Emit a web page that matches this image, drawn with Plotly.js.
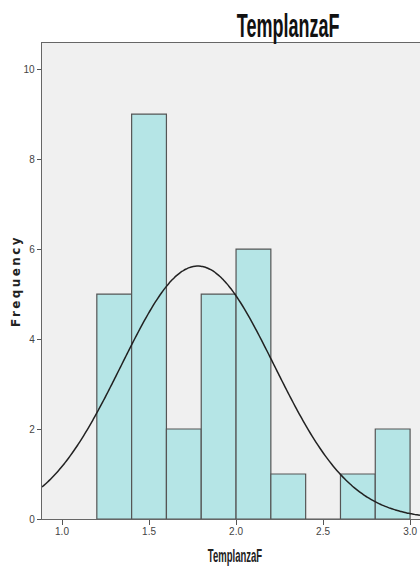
<!DOCTYPE html>
<html>
<head>
<meta charset="utf-8">
<script src="https://cdn.plot.ly/plotly-3.0.1.min.js"></script>
<style>
html,body{margin:0;padding:0;background:#fff;}
#chart{width:420px;height:574px;}
#chart .gtitle{transform-box:fill-box;transform-origin:center;transform:scale(0.6,1.12);}
#chart .xtitle{transform-box:fill-box;transform-origin:center;transform:translateX(4px) scale(0.68,1.3);}
#chart .ytitle{letter-spacing:2.4px;}
</style>
</head>
<body>
<div id="chart"></div>
<script>
// Histogram bins (centres, width 0.2) and frequencies
var binCenters = [1.3, 1.5, 1.7, 1.9, 2.1, 2.3, 2.5, 2.7, 2.9];
var counts = [5, 9, 2, 5, 6, 1, 0, 1, 2];
var binWidth = 0.2;
// Fitted normal curve parameters (SPSS overlay)
var fitMean = 1.78;
var fitSd = 0.44;
var xTicks = [1.0, 1.5, 2.0, 2.5, 3.0];
var xTickLabels = ["1.0", "1.5", "2.0", "2.5", "3.0"];
var yTicks = [0, 2, 4, 6, 8, 10];
var yTickLabels = ["0", "2", "4", "6", "8", "10"];

var nTotal = counts.reduce(function(a, b){return a + b;}, 0);
var xRange = [0.885, 3.057];
var curveX = [], curveY = [];
for (var i = 0; i <= 200; i++) {
  var x = xRange[0] + (xRange[1] - xRange[0]) * i / 200;
  var z = (x - fitMean) / fitSd;
  curveX.push(x);
  curveY.push(nTotal * binWidth * Math.exp(-0.5 * z * z) / (fitSd * Math.sqrt(2 * Math.PI)));
}

var sans = "Liberation Sans, Arial, sans-serif";

var traces = [
  {
    type: 'bar', x: binCenters, y: counts, width: binWidth,
    marker: {color: '#b5e5e6', line: {color: '#555555', width: 1.2}},
    hoverinfo: 'x+y'
  },
  {
    type: 'scatter', mode: 'lines', x: curveX, y: curveY,
    line: {color: '#222222', width: 1.5, shape: 'spline'},
    hoverinfo: 'skip'
  }
];

var layout = {
  width: 420, height: 574,
  margin: {l: 42, r: 0, t: 43, b: 55},
  paper_bgcolor: '#ffffff',
  plot_bgcolor: '#f0f0f0',
  showlegend: false,
  bargap: 0,
  title: {
    text: 'TemplanzaF',
    font: {family: sans, size: 30, color: '#111111', weight: 'bold'},
    x: 0.651, xref: 'paper', xanchor: 'center',
    y: 0.956, yref: 'container', yanchor: 'middle'
  },
  xaxis: {
    range: xRange,
    tickmode: 'array', tickvals: xTicks, ticktext: xTickLabels,
    ticks: 'outside', ticklen: 5, tickcolor: '#555', tickwidth: 1,
    tickfont: {family: sans, size: 10, color: '#444'},
    ticklabelstandoff: -2,
    showgrid: false, zeroline: false,
    showline: true, linecolor: '#666', linewidth: 1.3, mirror: true,
    title: {text: 'TemplanzaF', font: {family: sans, size: 14, color: '#222', weight: 'bold'}, standoff: 14}
  },
  yaxis: {
    range: [0, 10.58],
    tickmode: 'array', tickvals: yTicks, ticktext: yTickLabels,
    ticks: 'outside', ticklen: 4, tickcolor: '#555', tickwidth: 1,
    tickfont: {family: sans, size: 10, color: '#444'},
    showgrid: false, zeroline: false,
    showline: true, linecolor: '#666', linewidth: 1.3, mirror: false,
    title: {text: 'Frequency', font: {family: 'DejaVu Sans, sans-serif', size: 12, color: '#222', weight: 'bold'}, standoff: 0}
  }
};

Plotly.newPlot('chart', traces, layout, {displayModeBar: false, staticPlot: true});
</script>
</body>
</html>
